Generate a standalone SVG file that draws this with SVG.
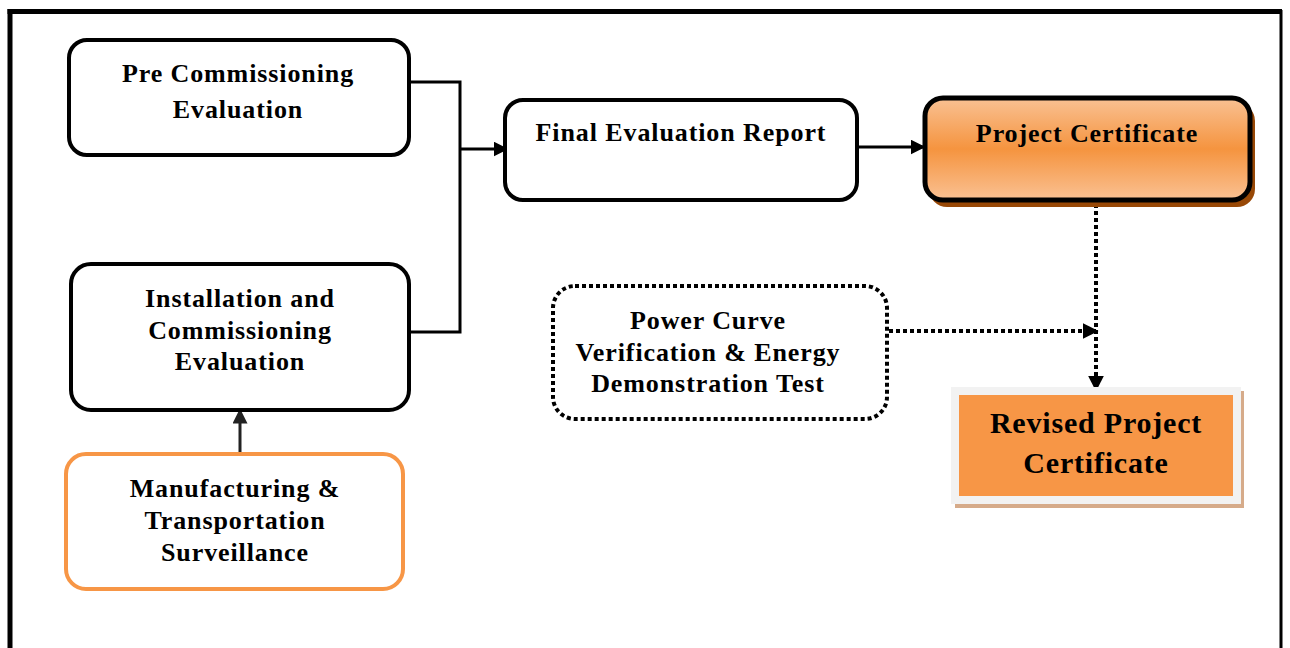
<svg xmlns="http://www.w3.org/2000/svg" width="1290" height="648" viewBox="0 0 1290 648">
<style>
.t{font-family:"Liberation Serif","Times New Roman",serif;font-weight:bold;font-size:26px;fill:#000;text-anchor:middle;letter-spacing:0.9px}
.big{font-size:30px;letter-spacing:0.8px}
.box{fill:#fff;stroke:#000;stroke-width:4}
.conn{fill:none;stroke:#000;stroke-width:3}
.dot{fill:none;stroke:#000;stroke-width:4;stroke-dasharray:4 3}
</style>
<defs>
<linearGradient id="pg" x1="0" y1="0" x2="0" y2="1">
<stop offset="0" stop-color="#F9C193"/>
<stop offset="0.5" stop-color="#F5943F"/>
<stop offset="1" stop-color="#FAC193"/>
</linearGradient>
<marker id="ah" viewBox="0 0 10 10" refX="9" refY="5" markerWidth="5" markerHeight="5" orient="auto" markerUnits="strokeWidth">
<path d="M0,0 L10,5 L0,10 z" fill="#000"/>
</marker>
<marker id="ahd" viewBox="0 0 10 10" refX="9" refY="5" markerWidth="4" markerHeight="4" orient="auto" markerUnits="strokeWidth">
<path d="M0,0 L10,5 L0,10 z" fill="#000"/>
</marker>
<marker id="ahu" viewBox="0 0 10 10" refX="9" refY="5" markerWidth="5" markerHeight="5" orient="auto" markerUnits="strokeWidth">
<path d="M0,0 L10,5 L0,10 z" fill="#222"/>
</marker>
</defs>
<rect x="0" y="0" width="1290" height="648" fill="#fff"/>
<g id="frame" fill="none" stroke="#000">
<line x1="10" y1="9" x2="10" y2="648" stroke-width="5"/>
<line x1="7.5" y1="11.5" x2="1282" y2="11.5" stroke-width="5"/>
<line x1="1281" y1="10" x2="1281" y2="648" stroke-width="3"/>
</g>
<g id="connectors">
<path class="conn" d="M409,82 H460 V332 H409"/>
<line class="conn" x1="460" y1="149" x2="507" y2="149" marker-end="url(#ah)"/>
<line class="conn" x1="857" y1="147" x2="924" y2="147" marker-end="url(#ah)"/>
<line x1="240" y1="454" x2="240" y2="410" stroke="#222" stroke-width="3" marker-end="url(#ahu)"/>
<line class="dot" x1="1096" y1="204" x2="1096" y2="390" marker-end="url(#ahd)"/>
<line class="dot" x1="889" y1="331" x2="1097" y2="331" marker-end="url(#ahd)"/>
</g>
<g id="pre">
<rect class="box" x="69" y="40" width="340" height="115" rx="18"/>
<text class="t" x="238" y="82">Pre Commissioning</text>
<text class="t" x="238" y="118">Evaluation</text>
</g>
<g id="install">
<rect class="box" x="71" y="264" width="338" height="146" rx="20"/>
<text class="t" x="240" y="307">Installation and</text>
<text class="t" x="240" y="339">Commissioning</text>
<text class="t" x="240" y="370">Evaluation</text>
</g>
<g id="manuf">
<rect x="66" y="454" width="337" height="135" rx="20" fill="#fff" stroke="#F79646" stroke-width="4"/>
<text class="t" x="235" y="497">Manufacturing &amp;</text>
<text class="t" x="235" y="529">Transportation</text>
<text class="t" x="235" y="561">Surveillance</text>
</g>
<g id="final">
<rect class="box" x="505" y="100" width="352" height="100" rx="18"/>
<text class="t" x="681" y="141">Final Evaluation Report</text>
</g>
<g id="project">
<rect x="929" y="103" width="326" height="104" rx="18" fill="#984806"/>
<rect x="925" y="98" width="325" height="102" rx="18" fill="url(#pg)" stroke="#000" stroke-width="5"/>
<text class="t" x="1087" y="142">Project Certificate</text>
</g>
<g id="power">
<rect class="dot" x="553" y="286" width="334" height="133" rx="22"/>
<text class="t" x="708" y="329">Power Curve</text>
<text class="t" x="708" y="361">Verification &amp; Energy</text>
<text class="t" x="708" y="392">Demonstration Test</text>
</g>
<g id="revised">
<rect x="955" y="391" width="289" height="117" fill="#D6AB8A"/>
<rect x="951" y="387" width="290" height="117" fill="#F2F2F2"/>
<rect x="959" y="395" width="274" height="101" fill="#F79646"/>
<text class="t big" x="1096" y="433">Revised Project</text>
<text class="t big" x="1096" y="473">Certificate</text>
</g>
</svg>
